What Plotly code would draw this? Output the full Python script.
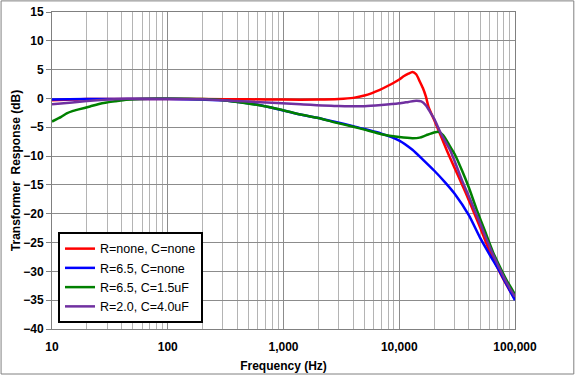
import plotly.graph_objects as go

# ---- data ----
red_f = [10, 15, 20, 30, 50, 100, 200, 500, 1000, 2000, 3000, 4000, 5000, 6800, 8000, 10000, 11000, 12000,
         13000, 14000, 15000, 16000, 17000, 18000, 20000, 23000, 26000, 30000, 35000, 40000, 45000, 50000,
         60000, 70000, 80000, 90000, 100000]
red_db = [-0.3, -0.2, -0.1, -0.1, -0.1, -0.1, -0.1, -0.15, -0.2, -0.2, -0.1, 0.1, 0.5, 1.5, 2.2, 3.3, 3.9, 4.3,
          4.6, 4.2, 3.0, 1.8, 0.3, -1.6, -3.7, -6.6, -9.2, -12.0, -15.0, -17.7, -20.2, -22.4,
          -26.4, -29.2, -31.5, -33.3, -34.8]

blue_f = [10, 20, 50, 100, 200, 300, 400, 600, 1000, 1400, 2000, 2700, 4000, 5200, 7000, 10000, 13000,
          16000, 20000, 25000, 30000, 40000, 50000, 60000, 75000, 90000, 100000]
blue_db = [-0.2, -0.1, -0.1, -0.1, -0.2, -0.3, -0.6, -1.1, -2.1, -2.8, -3.4, -4.0, -4.8, -5.4, -6.1, -7.3, -8.9,
           -10.6, -12.5, -14.6, -16.5, -20.3, -24.2, -27.0, -30.3, -33.3, -35.0]

green_f = [10, 12, 13.4, 15, 17, 21.3, 25, 29.7, 35, 41, 57, 80, 100, 200, 300, 400, 586, 934, 1400, 2000,
           2700, 4000, 5200, 7000, 10000, 13000, 15000, 17000, 20000, 22000, 24000, 26000, 28000, 30000,
           35000, 40000, 46500, 55000, 65000, 74000, 85000, 100000]
green_db = [-4.0, -3.2, -2.6, -2.2, -1.9, -1.4, -1.0, -0.7, -0.5, -0.3, -0.1, 0.0, 0.0, -0.1, -0.3, -0.6, -1.1,
            -1.9, -2.8, -3.4, -4.1, -4.9, -5.5, -6.2, -6.7, -6.9, -6.8, -6.4, -5.9, -5.8, -6.4, -7.5, -8.6,
            -9.6, -12.6, -15.5, -19.2, -23.0, -26.8, -29.2, -31.6, -34.0]

purple_f = [10, 15, 20, 30, 40, 50, 100, 200, 300, 500, 800, 1400, 3000, 5000, 7000, 10000, 12000, 14000,
            15500, 17000, 18400, 20000, 23200, 27400, 30000, 35000, 40000, 45000, 50000, 60000, 70000,
            80000, 90000, 100000]
purple_db = [-1.0, -0.7, -0.45, -0.2, -0.1, -0.05, -0.05, -0.15, -0.3, -0.55, -0.75, -1.0, -1.3, -1.35,
             -1.15, -0.85, -0.6, -0.4, -0.5, -1.2, -2.3, -3.5, -6.3, -8.9, -10.8, -14.3, -17.0, -19.5,
             -21.7, -25.6, -28.6, -31.0, -32.9, -34.4]

series_names = ["R=none, C=none", "R=6.5, C=none", "R=6.5, C=1.5uF", "R=2.0, C=4.0uF"]
series_colors = ["#FF0000", "#0000FF", "#008000", "#7030A0"]

x_tickvals = [10, 100, 1000, 10000, 100000]
x_ticktext = ["10", "100", "1,000", "10,000", "100,000"]
minor_digits = [2, 3, 4, 5, 6, 7, 8, 9]
x_minorvals = [d * dec for dec in x_tickvals[:-1] for d in minor_digits]
y_tickvals = list(range(-40, 16, 5))

fig = go.Figure()
for f, db, name, col in zip([red_f, blue_f, green_f, purple_f],
                            [red_db, blue_db, green_db, purple_db],
                            series_names, series_colors):
    fig.add_trace(go.Scatter(x=f, y=db, mode="lines", name=name,
                             line=dict(color=col, width=2.5, shape="spline", smoothing=0.6)))

fontfam = "Liberation Sans, Arial, sans-serif"
fig.update_layout(
    width=576, height=376,
    margin=dict(l=52, r=61, t=12, b=47),
    paper_bgcolor="#FFFFFF",
    plot_bgcolor="#FFFFFF",
    font=dict(family=fontfam, size=12, color="#000000"),
    showlegend=True,
    legend=dict(x=0.013, y=0.306, xanchor="left", yanchor="top",
                bgcolor="#FFFFFF", bordercolor="#000000", borderwidth=2,
                font=dict(family=fontfam, size=12.5, color="#000000"),
                tracegroupgap=0, itemwidth=30),
    shapes=[dict(type="rect", xref="paper", yref="paper",
                 x0=-0.11, x1=1.127, y0=-0.142, y1=1.035,
                 line=dict(color="#808080", width=1), layer="below")],
)
fig.update_xaxes(
    type="log", range=[1, 5], automargin=False,
    tickvals=x_tickvals, ticktext=x_ticktext,
    tickfont=dict(family=fontfam, size=12, color="#000000", weight="bold"),
    ticklabelstandoff=7,
    showgrid=True, gridcolor="#8C8C8C", gridwidth=1,
    minor=dict(showgrid=True, tickvals=x_minorvals, gridcolor="#B4B4B4", gridwidth=1),
    showline=True, linecolor="#808080", linewidth=1, mirror=True,
    ticks="", zeroline=False,
    title=dict(text="Frequency (Hz)", font=dict(family=fontfam, size=12, weight="bold"), standoff=8),
)
fig.update_yaxes(
    range=[-40, 15], tickvals=y_tickvals, automargin=False,
    tickfont=dict(family=fontfam, size=12, color="#000000", weight="bold"),
    showgrid=True, gridcolor="#8C8C8C", gridwidth=1,
    showline=True, linecolor="#808080", linewidth=1, mirror=True,
    ticks="outside", ticklen=5, tickcolor="#808080", zeroline=False,
    title=dict(text="Transformer\u00a0 Response (dB)", font=dict(family=fontfam, size=12, weight="bold"), standoff=0),
)

fig.write_html("out.html", post_script="document.body.style.margin='0';",
               config={"displayModeBar": False})
